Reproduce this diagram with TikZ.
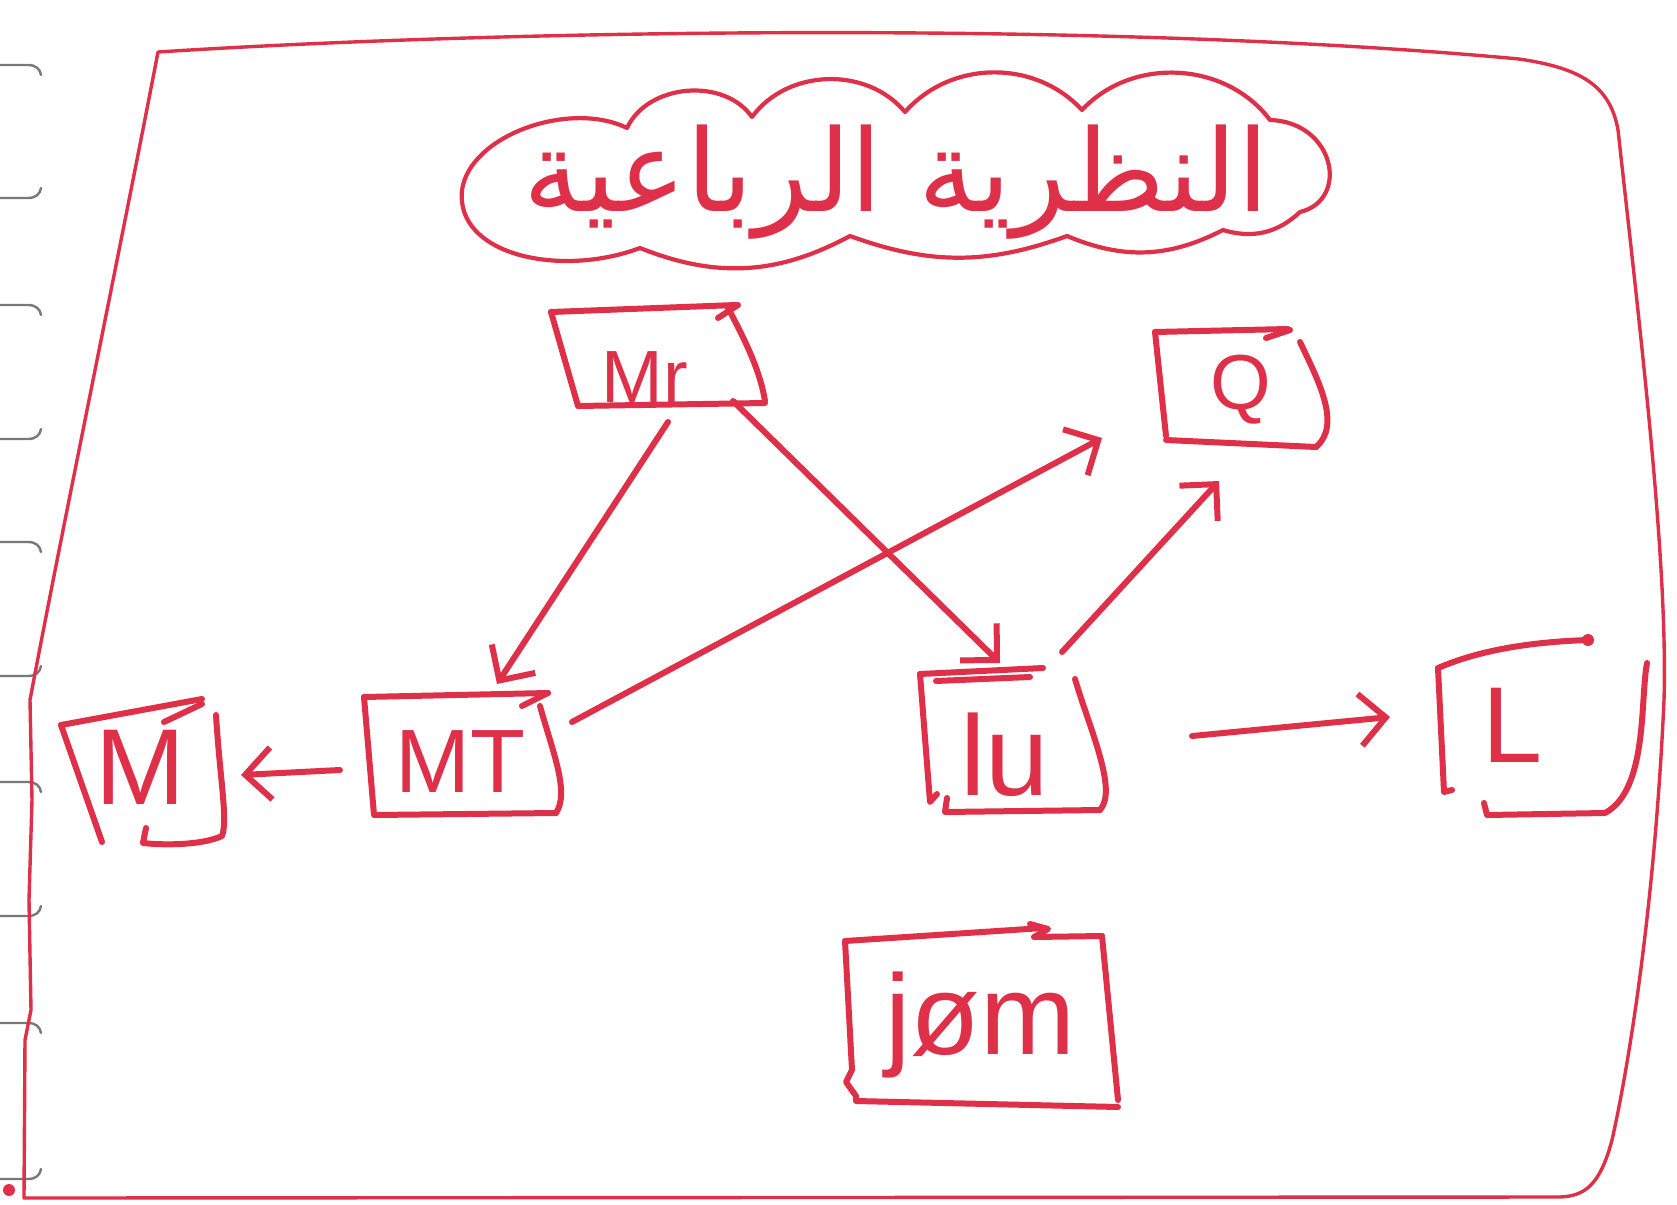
\documentclass[tikz,border=0pt]{standalone}
\usepackage{fontspec}
\setmainfont{Liberation Sans}
\newfontfamily\arabicfont[Script=Arabic]{DejaVu Sans}
\TeXXeTstate=1
\usetikzlibrary{arrows.meta,calc}
\definecolor{pen}{RGB}{222,48,72}
\definecolor{tabgray}{RGB}{120,120,120}
\begin{document}
\begin{tikzpicture}[x=1pt,y=-1pt,
  ink/.style={draw=pen, line width=6pt, line cap=round, line join=round},
  frameline/.style={draw=pen, line width=3.4pt, line cap=round, line join=round},
  lbl/.style={text=pen, inner sep=0pt, font=\fontsize{#1pt}{#1pt}\selectfont},
  link/.style={ink, -{Straight Barb[length=26pt,width=52pt]}},
  tabmark/.style={draw=tabgray, line width=2.4pt, line cap=round},
]
\useasboundingbox (0,0) rectangle (1677,1204);
\fill[white] (0,0) rectangle (1677,1204);

% page tabs along the left margin
\foreach \y in {65,305,542,782,1023}
  \draw[tabmark] (0,\y) -- (28,\y) .. controls (36,\y) and (40,\y+4) .. (41,\y+10);
\foreach \y in {198,439,676,916,1179}
  \draw[tabmark] (0,\y) -- (28,\y) .. controls (36,\y) and (40,\y-4) .. (41,\y-10);

% outer frame
\draw[frameline] (158,52) .. controls (500,30) and (1100,20) .. (1519,59)
  .. controls (1580,68) and (1610,85) .. (1618,130)
  .. controls (1640,330) and (1668,560) .. (1664,700)
  .. controls (1655,900) and (1630,1060) .. (1612,1140)
  .. controls (1600,1185) and (1585,1196) .. (1560,1197)
  -- (24,1198)
  -- (25,1040) -- (31,1010) -- (29,900) -- (32,800) -- (30,700)
  .. controls (60,540) and (120,250) .. (158,52);
\fill[pen] (9,1190) circle (6);

% title cloud
\draw[ink, line width=4.2pt] (627,128) to[bend left=60] (752,117)
  to[bend left=52] (905,112)
  to[bend left=48] (1082,110)
  to[bend left=50] (1270,120)
  .. controls (1335,122) and (1350,200) .. (1300,212)
  to[bend left=30] (1223,230)
  to[bend left=25] (1067,236)
  to[bend left=20] (850,236)
  to[bend left=25] (640,248)
  .. controls (560,278) and (455,255) .. (462,190)
  .. controls (470,135) and (570,100) .. (627,128);
\node[lbl=114] (title) at (896,182) {\arabicfont\beginR النظرية الرباعية\endR};

% labels
\node[lbl=74]  (mr)  at (645,377)  {Mr};
\node[lbl=78]  (q)   at (1241,390) {Q};
\node[lbl=90]  (mt)  at (460,762)  {MT};
\node[lbl=108] (m)   at (140,767)  {M};
\node[lbl=114] (lu)  at (1005,755) {lu};
\node[lbl=108] (l)   at (1513,725) {L};
\node[lbl=114] (jom) at (980,1025) {jøm};

% hand-drawn box outlines
% Mr
\draw[ink] (551,312) -- (736,305);
\draw[ink] (718,318) -- (738,305);
\draw[ink] (551,312) -- (578,406) -- (765,403);
\draw[ink] (727,306) .. controls (745,340) and (760,370) .. (765,401);
% Q
\draw[ink] (1155,332) -- (1288,329);
\draw[ink] (1266,338) -- (1290,330);
\draw[ink] (1155,332) -- (1166,436);
\draw[ink] (1166,440) -- (1316,447);
\draw[ink] (1300,342) .. controls (1318,380) and (1342,425) .. (1316,447);
% MT
\draw[ink] (364,697) -- (548,693);
\draw[ink] (522,706) -- (548,693);
\draw[ink] (364,697) -- (374,815) -- (556,813);
\draw[ink] (540,706) .. controls (552,750) and (570,792) .. (556,813);
% M
\draw[ink] (61,725) -- (202,699);
\draw[ink] (164,722) -- (202,704);
\draw[ink] (61,725) -- (102,842);
\draw[ink] (216,715) .. controls (220,780) and (228,820) .. (222,836)
  .. controls (200,846) and (160,845) .. (143,843) -- (146,828);
% lu
\draw[ink] (920,674) -- (1043,668);
\draw[ink] (936,681) -- (1030,677);
\draw[ink] (920,674) -- (930,802) -- (937,794);
\draw[ink] (1075,679) .. controls (1090,730) and (1118,790) .. (1100,810);
\draw[ink] (947,798) -- (945,812) -- (1100,810);
% L
\draw[ink] (1438,668) .. controls (1480,650) and (1530,642) .. (1588,640);
\fill[pen] (1588,640) circle (6);
\draw[ink] (1438,668) -- (1444,792) -- (1452,790);
\draw[ink] (1647,663) .. controls (1640,700) and (1648,790) .. (1605,813)
  -- (1487,815) -- (1484,803);
% jøm
\draw[ink] (845,941) -- (1043,928);
\draw[ink] (1030,924) -- (1048,929) -- (1034,937) -- (1102,936);
\draw[ink] (845,941) -- (852,1070) -- (846,1082) -- (856,1096) -- (856,1101)
  -- (1118,1107);
\draw[ink] (1102,936) -- (1118,1100);

% connectors
\draw[link] ($(mr)+(23,45)$)    -- ($(mt)+(37,-78)$);
\draw[link] ($(mr)+(88,24)$)    -- ($(lu)+(-5,-92)$);
\draw[link] ($(mt)+(112,-40)$)  -- ($(q)+(-139,48)$);
\draw[link] ($(lu)+(57,-103)$)  -- ($(q)+(-22,91)$);
\draw[link] ($(mt)+(-120,8)$)   -- ($(m)+(101,8)$);
\draw[link] ($(lu)+(187,-19)$)  -- ($(l)+(-123,-8)$);
\end{tikzpicture}
\end{document}
